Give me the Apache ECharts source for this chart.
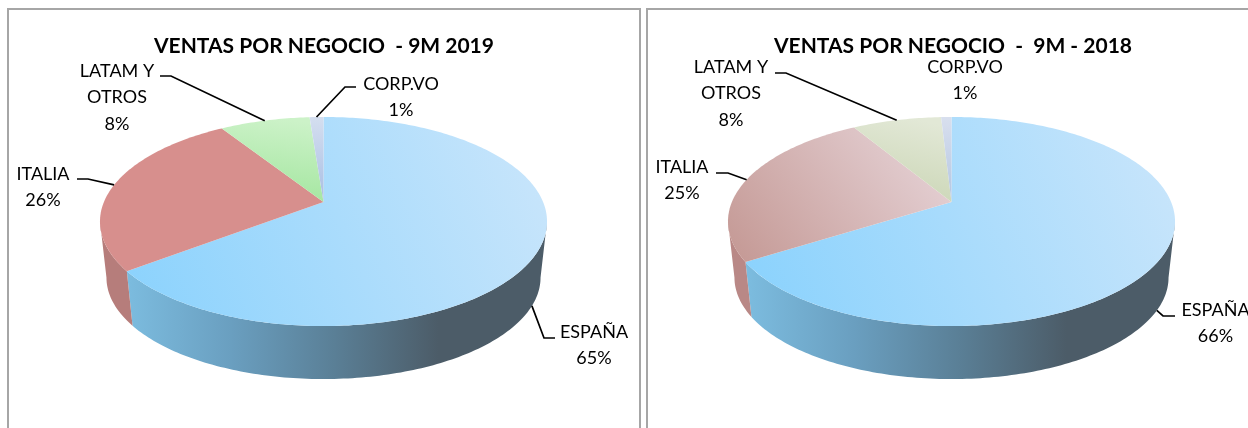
<!DOCTYPE html>
<html>
<head>
<meta charset="utf-8">
<style>
  html, body { margin: 0; padding: 0; background: #fff; }
  #chart { width: 1248px; height: 428px; }
</style>
</head>
<body>
<div id="chart"></div>
<script src="https://cdn.jsdelivr.net/npm/echarts@6/dist/echarts.min.js"></script>
<script>
// decimals because the slice edges show more than the rounded labels
const categories = ['ESPAÑA', 'ITALIA', 'LATAM Y\nOTROS', 'CORP.VO'];
const values2019 = [64.6, 26.4, 7.8, 1.2];
const values2018 = [66, 25.4, 7.7, 0.9];
const title2019 = 'VENTAS POR NEGOCIO  - 9M 2019';
const title2018 = 'VENTAS POR NEGOCIO  -  9M - 2018';

// perspective of the pie: k shifts the apex up from the middle of the ellipse
const k = 0.1866;
const rimA = 219.6;
const rimB = 100.9;
const apexY = 202;
const baseScale = 0.971;
const baseY = 258.6;

function project(cx, cy, scale, deg) {
  const t = deg * Math.PI / 180;
  const u = Math.sin(t);
  const v = -Math.cos(t);
  const d = 1 - k * v;
  return [cx + scale * rimA * u / d, cy + scale * rimB * v / d];
}

function arc(cx, cy, scale, from, to) {
  const pts = [];
  const n = Math.max(2, Math.ceil(to - from));
  for (let i = 0; i <= n; i++) pts.push(project(cx, cy, scale, from + (to - from) * i / n));
  return pts;
}

function grad(x, y, x2, y2, stops) {
  return new echarts.graphic.LinearGradient(x, y, x2, y2, stops.map((c, i) => ({ offset: i / (stops.length - 1), color: c })), true);
}

const panels = [
  {
    cx: 323.5,
    values: values2019,
    title: title2019,
    titleX: 319,
    top: [
      cx => grad(cx - 195, 320, cx + 215, 150, ['#8ad2fd', '#c8e5fb']),
      cx => grad(cx - 224, 300, cx, 120, ['#d78f8d', '#d78f8d']),
      cx => grad(cx - 60, 200, cx - 50, 118, ['#a4e6a0', '#ccf2c8']),
      cx => grad(cx, 200, cx, 118, ['#a9bfe4', '#d4deef'])
    ],
    wall: [
      cx => grad(cx - 197, 0, cx + 115, 0, ['#7cbcdf', '#6a9fc0', '#5a7f96', '#4c5c68']),
      cx => grad(cx - 224, 0, cx - 190, 0, ['#b67d7b', '#b67d7b'])
    ],
    labels: [
      { x: 594, y: 331, elbow: [[555, 338], [544, 338]], onBase: true },
      { x: 43, y: 173, elbow: [[77, 179], [88, 179]] },
      { x: 117, y: 70, elbow: [[160, 76], [171, 76]] },
      { x: 401, y: 83, elbow: [[356, 87], [345, 87]] }
    ]
  },
  {
    cx: 951.5,
    values: values2018,
    title: title2018,
    titleX: 948,
    top: [
      cx => grad(cx - 195, 320, cx + 215, 150, ['#8ad2fd', '#c8e5fb']),
      cx => grad(cx - 205, 270, cx - 20, 130, ['#c59a96', '#e6d3d7']),
      cx => grad(cx - 60, 200, cx - 40, 118, ['#cbd6b6', '#e2e8d6']),
      cx => grad(cx, 200, cx, 118, ['#b3c6e2', '#d8dfee'])
    ],
    wall: [
      cx => grad(cx - 205, 0, cx + 115, 0, ['#7cbcdf', '#6a9fc0', '#5a7f96', '#4c5c68']),
      cx => grad(cx - 224, 0, cx - 190, 0, ['#b98886', '#b98886'])
    ],
    labels: [
      { x: 1215.5, y: 309, elbow: [[1175, 316], [1163, 316]], onBase: true },
      { x: 682, y: 166, elbow: [[716, 173], [728, 173]] },
      { x: 731, y: 66, elbow: [[775, 73], [786, 73]] },
      { x: 965, y: 66 }
    ]
  }
];

const lineHeight = 26.6;

function renderPanel(panel) {
  const cx = panel.cx;
  const total = panel.values.reduce((a, b) => a + b, 0);
  const visA = 90 + Math.asin(k) * 180 / Math.PI;
  const visB = 270 - Math.asin(k) * 180 / Math.PI;
  return function (params, api) {
    const i = params.dataIndex;
    const value = api.value(0);
    let start = 0;
    for (let j = 0; j < i; j++) start += panel.values[j];
    const from = start / total * 360;
    const to = (start + value) / total * 360;
    const mid = (from + to) / 2;
    const children = [];

    // side wall, only the part facing the viewer
    const wf = Math.max(from, visA);
    const wt = Math.min(to, visB);
    if (wt > wf) {
      const upper = arc(cx, apexY, 1, wf, wt);
      const lower = arc(cx, baseY, baseScale, wf, wt).reverse();
      children.push({
        type: 'polygon',
        shape: { points: upper.concat(lower) },
        style: { fill: panel.wall[i](cx) }
      });
    }

    // top face
    const face = [[cx, apexY]].concat(arc(cx, apexY, 1, from, to));
    children.push({
      type: 'polygon',
      shape: { points: face },
      style: { fill: panel.top[i](cx) }
    });

    // label and leader
    const lab = panel.labels[i];
    const text = categories[i] + '\n' + Math.round(value / total * 100) + '%';
    children.push({
      type: 'text',
      z2: 10,
      style: {
        text: text,
        x: lab.x,
        y: lab.y - 12.5,
        fill: '#000',
        font: '18px Lato',
        lineHeight: lineHeight,
        align: 'center',
        verticalAlign: 'top'
      }
    });
    if (lab.elbow) {
      const end = lab.onBase ? project(cx, baseY, baseScale, mid) : project(cx, apexY, 1, mid);
      children.push({
        type: 'polyline',
        z2: 9,
        shape: { points: lab.elbow.concat([end]) },
        style: { stroke: '#000', lineWidth: 1.7, fill: null }
      });
    }
    return { type: 'group', children: children };
  };
}

const chart = echarts.init(document.getElementById('chart'), null, { renderer: 'canvas' });

const borderStyle = { stroke: '#a6a6a6', lineWidth: 2, fill: null };

chart.setOption({
  backgroundColor: '#fff',
  animation: false,
  title: panels.map(p => ({
    text: p.title,
    left: p.titleX,
    top: 31,
    textAlign: 'center',
    textStyle: { fontFamily: 'Lato', fontSize: 21, fontWeight: 'bold', color: '#000' }
  })),
  graphic: [
    { type: 'polyline', shape: { points: [[8, 440], [8, 9], [640, 9], [640, 440]] }, style: borderStyle, silent: true },
    { type: 'polyline', shape: { points: [[647, 440], [647, 9], [1260, 9]] }, style: borderStyle, silent: true }
  ],
  series: panels.map(p => ({
    type: 'custom',
    coordinateSystem: 'none',
    renderItem: renderPanel(p),
    data: p.values.map((v, i) => ({ name: categories[i], value: [v] })),
    silent: true
  }))
});
</script>
</body>
</html>
